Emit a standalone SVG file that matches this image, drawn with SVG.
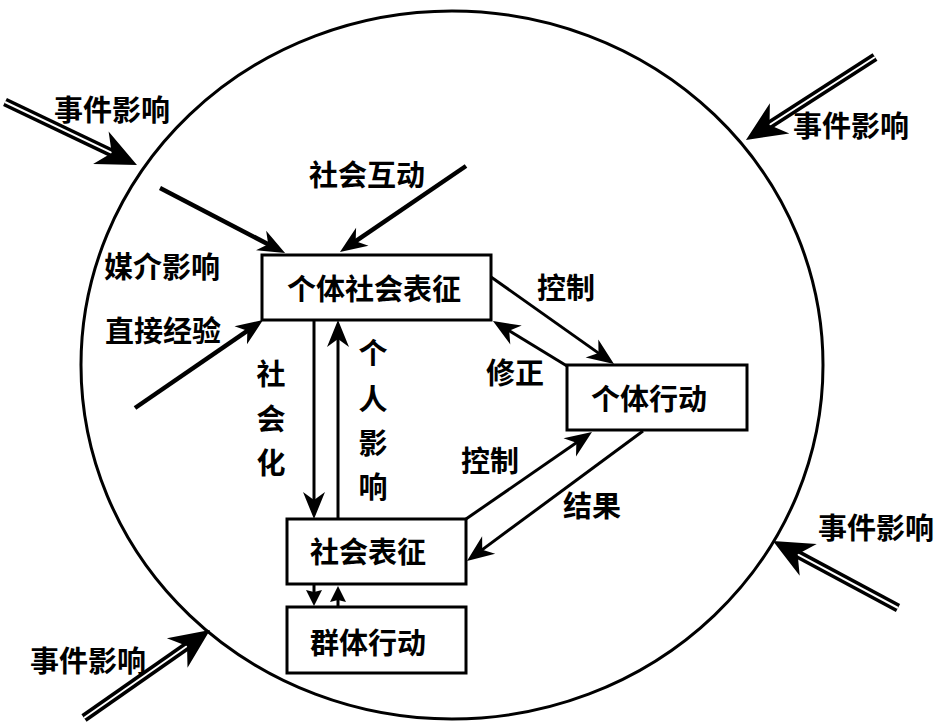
<svg xmlns="http://www.w3.org/2000/svg" width="945" height="723" viewBox="0 0 945 723">
<style>
text{font-family:"Noto Sans CJK SC","Noto Sans CJK TC",sans-serif;font-size:29px;font-weight:bold;fill:#000;text-anchor:middle}
.box{fill:#fff;stroke:#000;stroke-width:3}
.ln{fill:none;stroke:#000;stroke-width:4.5}
.cn{fill:none;stroke:#000;stroke-width:3}
.dbo{fill:none;stroke:#000;stroke-width:9}
.dbi{fill:none;stroke:#fff;stroke-width:2}
</style>
<defs>
<marker id="ah" viewBox="-16 -13 30 26" refX="0" refY="0" markerWidth="30" markerHeight="26" markerUnits="userSpaceOnUse" orient="auto">
<path d="M12,0 L-15,-11 L-7,0 L-15,11 Z" fill="#000"/>
</marker>
<marker id="ahs" viewBox="-10 -10 20 20" refX="0" refY="0" markerWidth="20" markerHeight="20" markerUnits="userSpaceOnUse" orient="auto">
<path d="M8,0 L-8,-8 L-6,0 L-8,8 Z" fill="#000"/>
</marker>
<marker id="ahb" viewBox="-18 -20 46 40" refX="0" refY="0" markerWidth="46" markerHeight="40" markerUnits="userSpaceOnUse" orient="auto">
<path d="M25,0 L-15,-18 L-3,0 L-15,18 Z" fill="#000"/>
</marker>
</defs>
<ellipse id="boundary" cx="452" cy="365" rx="371" ry="354" fill="none" stroke="#000" stroke-width="3"/>

<g id="connectors">
<line class="ln" x1="160" y1="188" x2="274.4" y2="247.5" marker-end="url(#ah)"/>
<line class="ln" x1="466" y1="166" x2="349.9" y2="245.2" marker-end="url(#ah)"/>
<line class="ln" x1="135" y1="408" x2="253.1" y2="326.8" marker-end="url(#ah)"/>
<line class="cn" x1="314" y1="320" x2="314" y2="507" marker-end="url(#ah)"/>
<line class="cn" x1="338" y1="519" x2="338" y2="332" marker-end="url(#ah)"/>
<line class="cn" x1="491" y1="277" x2="604.2" y2="357.1" marker-end="url(#ah)"/>
<line class="cn" x1="567" y1="366" x2="503.2" y2="327.2" marker-end="url(#ah)"/>
<line class="cn" x1="466" y1="519" x2="582.1" y2="438.8" marker-end="url(#ah)"/>
<line class="cn" x1="643" y1="431" x2="476.6" y2="553.9" marker-end="url(#ah)"/>
<line class="cn" x1="314" y1="584" x2="314" y2="598" marker-end="url(#ahs)"/>
<line class="cn" x1="338" y1="607" x2="338" y2="594" marker-end="url(#ahs)"/>
<line class="dbo" x1="5" y1="102" x2="114.4" y2="154.2"/>
<line class="dbi" x1="5" y1="102" x2="114.4" y2="154.2" marker-end="url(#ahb)"/>
<line class="dbo" x1="875" y1="57" x2="767" y2="126.5"/>
<line class="dbi" x1="875" y1="57" x2="767" y2="126.5" marker-end="url(#ahb)"/>
<line class="dbo" x1="898" y1="608" x2="795" y2="552.8"/>
<line class="dbi" x1="898" y1="608" x2="795" y2="552.8" marker-end="url(#ahb)"/>
<line class="dbo" x1="84" y1="718" x2="189.5" y2="644.3"/>
<line class="dbi" x1="84" y1="718" x2="189.5" y2="644.3" marker-end="url(#ahb)"/>
</g>

<g id="n-individual-rep"><rect class="box" x="262" y="255" width="229" height="65"/><text x="374" y="300">个体社会表征</text></g>
<g id="n-individual-action"><rect class="box" x="567" y="365" width="180" height="65"/><text x="649" y="410">个体行动</text></g>
<g id="n-social-rep"><rect class="box" x="287" y="519" width="179" height="65"/><text x="368" y="563">社会表征</text></g>
<g id="n-group-action"><rect class="box" x="287" y="607" width="179" height="66"/><text x="368" y="654">群体行动</text></g>

<g id="labels">
<text x="112" y="121">事件影响</text>
<text x="851" y="137">事件影响</text>
<text x="876" y="539">事件影响</text>
<text x="88" y="672">事件影响</text>
<text x="367" y="186">社会互动</text>
<text x="162" y="278">媒介影响</text>
<text x="163" y="342">直接经验</text>
<text x="566" y="299">控制</text>
<text x="515" y="384">修正</text>
<text x="490" y="472">控制</text>
<text x="592" y="517">结果</text>
<text x="271" y="385">社</text>
<text x="271" y="430">会</text>
<text x="271" y="474">化</text>
<text x="373" y="364">个</text>
<text x="373" y="410">人</text>
<text x="373" y="454">影</text>
<text x="373" y="498">响</text>
</g>
</svg>
